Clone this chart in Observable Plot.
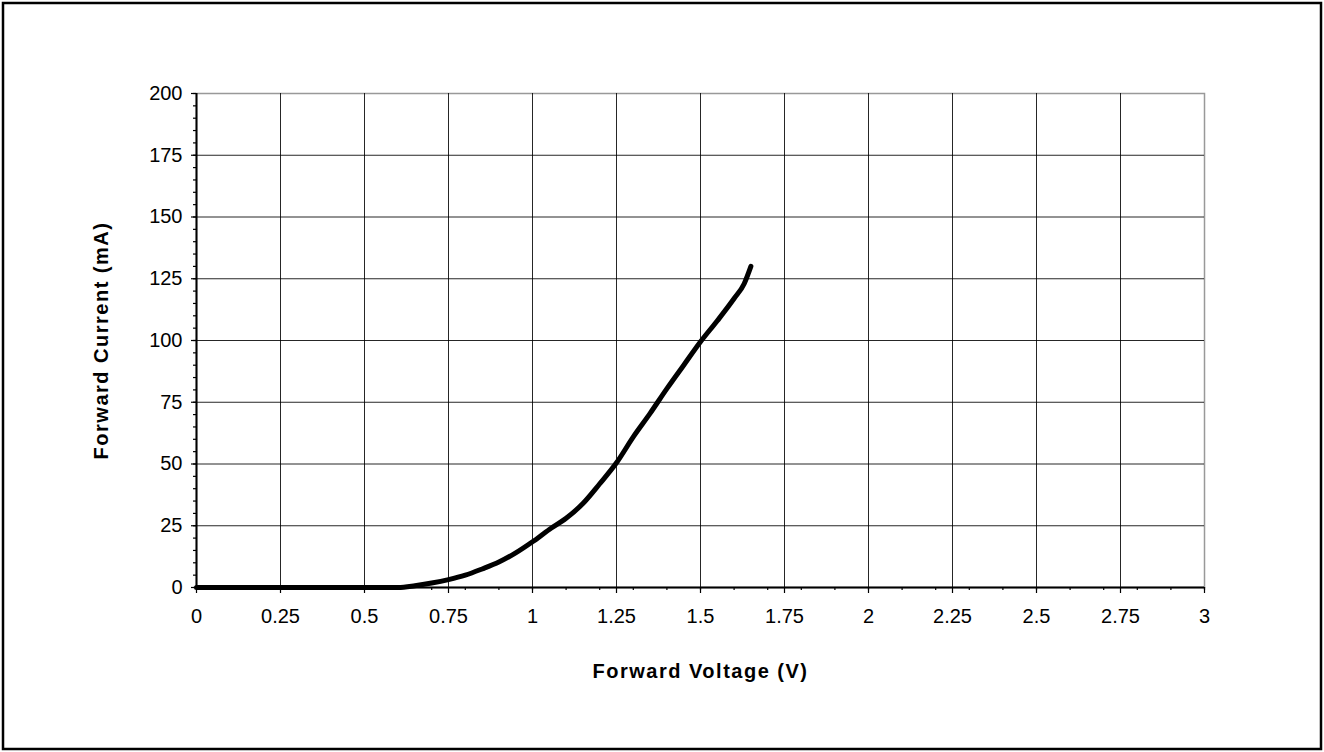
<!DOCTYPE html>
<html>
<head>
<meta charset="utf-8">
<script src="https://cdn.jsdelivr.net/npm/d3@7"></script>
<script src="https://cdn.jsdelivr.net/npm/@observablehq/plot@0.6"></script>
<style>
  html, body { margin: 0; padding: 0; background: #fff; }
  #chart { position: relative; width: 1324px; height: 752px; }
  #chart svg { display: block; }
</style>
</head>
<body>
<div id="chart"></div>
<script>
// Forward I-V curve (voltage in V, current in mA)
const voltage = [0, 0.1, 0.2, 0.3, 0.4, 0.5, 0.6, 0.65, 0.7, 0.75, 0.8, 0.85, 0.9, 0.95, 1.0, 1.05, 1.1, 1.15, 1.2, 1.25, 1.3, 1.35, 1.4, 1.45, 1.5, 1.55, 1.6, 1.63, 1.65];
const current = [0, 0, 0, 0, 0, 0, 0, 0.7, 1.8, 3.2, 5, 7.5, 10.3, 14, 18.5, 23.5, 28, 34, 42, 50.5, 61, 70.5, 80.5, 90, 99.5, 108, 117, 123, 130];

const xMajorTicks = [0, 0.25, 0.5, 0.75, 1, 1.25, 1.5, 1.75, 2, 2.25, 2.5, 2.75, 3];
const xMinorTicks = d3.range(0, 31).map(i => i / 10);
const yMajorTicks = [0, 25, 50, 75, 100, 125, 150, 175, 200];
const yMinorTicks = d3.range(0, 41).map(i => i * 5);
const xGrid = [0.25, 0.5, 0.75, 1, 1.25, 1.5, 1.75, 2, 2.25, 2.5, 2.75];
const yGrid = [25, 50, 75, 100, 125, 150, 175];

const xLabel = "Forward Voltage (V)";
const yLabel = "Forward Current (mA)";

const data = voltage.map((v, i) => ({v, c: current[i]}));

const W = 1324, H = 752;
const plot = Plot.plot({
  width: W,
  height: H,
  marginLeft: 196,
  marginRight: 120,
  marginTop: 93,
  marginBottom: 165,
  style: {fontFamily: "'Liberation Sans', Arial, sans-serif", fontSize: "19px", color: "#000", background: "#fff"},
  x: {domain: [0, 3]},
  y: {domain: [0, 200]},
  marks: [
    Plot.frame({stroke: "#999", strokeWidth: 1.5}),
    Plot.gridX(xGrid, {stroke: "#000", strokeOpacity: 0.85, strokeWidth: 1}),
    Plot.gridY(yGrid, {stroke: "#000", strokeOpacity: 0.85, strokeWidth: 1}),
    Plot.axisX(xMinorTicks, {tickSize: 3, text: null, label: null, strokeWidth: 1.2}),
    Plot.axisX(xMajorTicks, {tickSize: 6, tickPadding: 15, tickFormat: d => String(d), label: xLabel, labelAnchor: "center", labelArrow: "none", labelOffset: 90, strokeWidth: 1.2}),
    Plot.axisY(yMinorTicks, {tickSize: 3, text: null, label: null, strokeWidth: 1.2}),
    Plot.axisY(yMajorTicks, {tickSize: 5, tickPadding: 9, tickFormat: d => String(d), label: yLabel, labelAnchor: "center", labelArrow: "none", labelOffset: 103, strokeWidth: 1.2}),
    Plot.ruleX([0], {stroke: "#000", strokeWidth: 2}),
    Plot.ruleY([0], {stroke: "#000", strokeWidth: 2}),
    Plot.line(data, {x: "v", y: "c", stroke: "#000", strokeWidth: 5, curve: "monotone-x", strokeLinejoin: "round", strokeLinecap: "round"})
  ]
});

document.getElementById("chart").appendChild(plot);

const svg = d3.select(plot);
// tick label size
svg.selectAll("text").each(function() {
  const t = this.textContent;
  if (t === xLabel || t === yLabel) {
    d3.select(this).style("font-weight", "bold").style("font-size", "20px").style("letter-spacing", "1.5px");
  } else {
    d3.select(this).style("font-size", "20px");
  }
});

// outer chart border
svg.append("rect")
  .attr("x", 3).attr("y", 3)
  .attr("width", W - 6).attr("height", H - 6)
  .attr("fill", "none").attr("stroke", "#000").attr("stroke-width", 2.5);
</script>
</body>
</html>
